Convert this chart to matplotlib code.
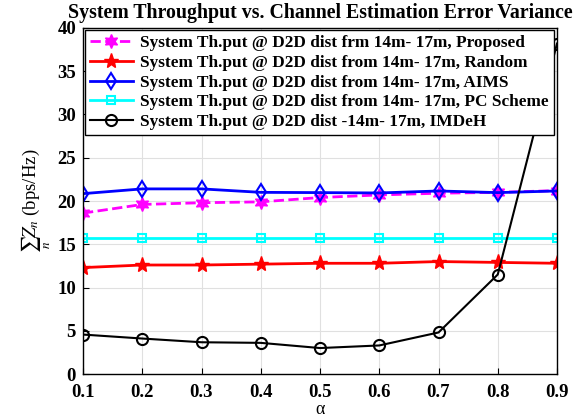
import matplotlib.pyplot as plt
import numpy as np

plt.rcParams['font.family'] = ['Liberation Serif', 'DejaVu Serif']
plt.rcParams['mathtext.fontset'] = 'stix'

alpha = [0.1, 0.2, 0.3, 0.4, 0.5, 0.6, 0.7, 0.8, 0.9]

proposed = [18.6, 19.6, 19.8, 19.9, 20.4, 20.7, 20.9, 21.0, 21.2]
random_s = [12.3, 12.6, 12.6, 12.7, 12.8, 12.8, 13.0, 12.9, 12.8]
aims = [20.85, 21.4, 21.4, 21.0, 20.97, 20.93, 21.16, 20.97, 21.16]
pc_scheme = [15.67, 15.67, 15.67, 15.67, 15.67, 15.67, 15.67, 15.67, 15.67]
imdeh = [4.56, 4.1, 3.67, 3.6, 3.0, 3.3, 4.8, 11.5, 38.2]

labels = ['System Th.put @ D2D dist frm 14m- 17m, Proposed',
          'System Th.put @ D2D dist from 14m- 17m, Random',
          'System Th.put @ D2D dist from 14m- 17m, AIMS',
          'System Th.put @ D2D dist from 14m- 17m, PC Scheme',
          'System Th.put @ D2D dist -14m- 17m, IMDeH']

fig = plt.figure(figsize=(5.82, 4.19), dpi=100)
ax = fig.add_axes([83/582, 1-374/419, 474/582, 346/419])

ax.plot(alpha, proposed, '--', color='magenta', lw=2, marker=(6, 1, 0), ms=10, label=labels[0])
ax.plot(alpha, random_s, '-', color='red', lw=2, marker='*', ms=11, label=labels[1])
ax.plot(alpha, aims, '-', color='blue', lw=2, marker='d', ms=8, mfc='none', mew=1.5, label=labels[2])
ax.plot(alpha, pc_scheme, '-', color='cyan', lw=2, marker='s', ms=6, mfc='none', mew=1.5, label=labels[3])
ax.plot(alpha, imdeh, '-', color='black', lw=1.5, marker='o', ms=8, mfc='none', mew=1.5, label=labels[4])

ax.set_xlim(0.1, 0.9)
ax.set_ylim(0, 40)
ax.set_xticks(alpha)
ax.set_yticks(np.arange(0, 41, 5))
ax.grid(True, color='#e0e0e0', lw=0.8)
ax.set_axisbelow(True)
ax.tick_params(direction='in', labelsize=13.5, length=4)
ax.tick_params(axis='x', pad=7)
ax.tick_params(axis='y', pad=5)
for lab in ax.get_xticklabels() + ax.get_yticklabels():
    lab.set_fontweight('bold')
for s in ax.spines.values():
    s.set_linewidth(1.0)

ax.set_title('System Throughput vs. Channel Estimation Error Variance', fontsize=14.3, fontweight='bold', pad=7)
ax.set_xlabel('α', fontsize=13, labelpad=0)
ax.set_ylabel(r'$\sum_n Z_n$ (bps/Hz)', fontsize=13.5, labelpad=3)

leg = ax.legend(loc='upper left', prop={'weight': 'bold', 'size': 12.4}, fancybox=False,
                edgecolor='black', framealpha=1, borderaxespad=0.1, handlelength=2.5,
                labelspacing=0.22, borderpad=0.3, handletextpad=0.4)
leg.get_frame().set_linewidth(1.0)

fig.savefig('out.png', dpi=100)
